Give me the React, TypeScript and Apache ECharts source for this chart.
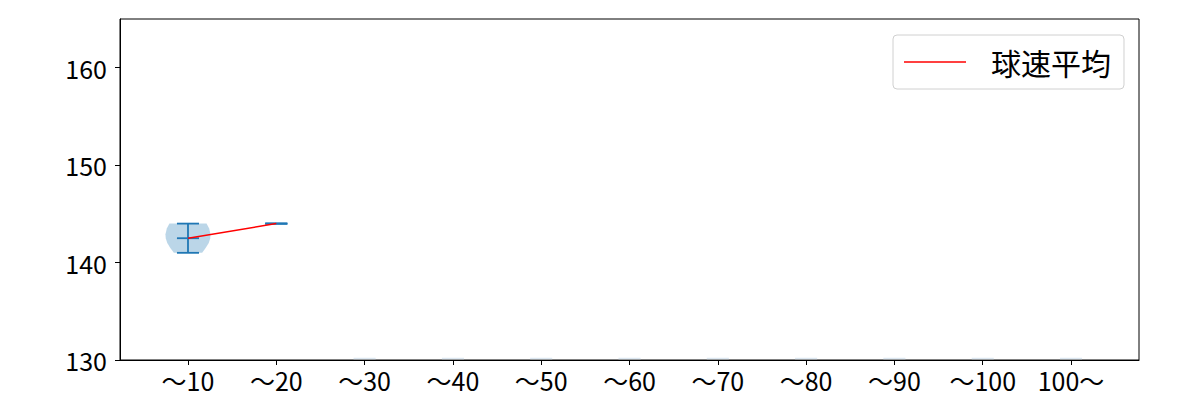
import React, { useEffect, useRef } from 'react';
import * as echarts from 'echarts';

// x categories (pitch count buckets)
const categories = ['〜10', '〜20', '〜30', '〜40', '〜50', '〜60', '〜70', '〜80', '〜90', '〜100', '100〜'];
const positions = categories.map((_, i) => i + 1);

// per-bucket stats (only first two buckets have pitches)
const minValues = [141, 144];
const maxValues = [144, 144];
const meanValues = [142.5, 144];

// KDE outline of the first violin
const profileValues = [141.0, 141.5, 142.0, 142.5, 142.9, 143.5, 144.0];
const profileHalfWidths = [0.16, 0.2, 0.235, 0.252, 0.255, 0.24, 0.21];

// empty buckets leave only a faint sliver at the axis floor
const emptyPositions = [3, 4, 5, 6, 7, 8, 9, 10, 11];

const yTicks = [130, 140, 150, 160];

const FONT = '"Noto Sans CJK JP", "Noto Sans", sans-serif';
const BLUE = '#1f77b4';
const CAP = 0.125;

export default function App() {
  const chartRef = useRef<HTMLDivElement>(null);

  useEffect(() => {
    if (!chartRef.current) return;
    const chart = echarts.init(chartRef.current, null, { renderer: 'svg' });

    const violinData = minValues.map((_, i) => [positions[i], i]);

    const option: echarts.EChartsOption = {
      animation: false,
      backgroundColor: '#fff',
      grid: {
        left: 120,
        right: 61,
        top: 19,
        bottom: 40,
        show: true,
        borderColor: '#000',
        borderWidth: 1,
      },
      legend: {
        left: 893,
        top: 35,
        data: ['球速平均'],
        icon: 'rect',
        itemWidth: 62,
        itemHeight: 1.5,
        padding: [11, 13, 11, 11],
        borderColor: '#d0d0d0',
        borderWidth: 1,
        borderRadius: 4,
        backgroundColor: '#fff',
        textStyle: {
          fontFamily: FONT,
          fontSize: 30,
          color: '#000',
          lineHeight: 32,
          padding: [0, 0, 0, 20],
        },
      },
      xAxis: {
        type: 'value',
        min: 0.23,
        max: 11.77,
        splitLine: { show: false },
        axisLine: { lineStyle: { color: '#000', width: 1 } },
        axisTick: {
          show: true,
          length: 5,
          customValues: positions,
          lineStyle: { color: '#000' },
        },
        axisLabel: {
          customValues: positions,
          formatter: (v: number) => categories[Math.round(v) - 1] ?? '',
          fontFamily: FONT,
          fontSize: 25,
          color: '#000',
          margin: 7,
        },
      },
      yAxis: {
        type: 'value',
        min: 130,
        max: 165,
        interval: 10,
        splitLine: { show: false },
        axisLine: { show: true, lineStyle: { color: '#000', width: 1 } },
        axisTick: {
          show: true,
          length: 5,
          customValues: yTicks,
          lineStyle: { color: '#000' },
        },
        axisLabel: {
          customValues: yTicks,
          fontFamily: FONT,
          fontSize: 25,
          color: '#000',
          margin: 13,
        },
      },
      series: [
        {
          type: 'custom',
          name: 'empty',
          silent: true,
          data: emptyPositions.map((p) => [p, 130]),
          renderItem: (params: any, api: any) => {
            const p = api.value(0);
            const a = api.coord([p - CAP, 130]);
            const b = api.coord([p + CAP, 130]);
            return {
              type: 'line',
              shape: { x1: a[0], y1: a[1] - 1.5, x2: b[0], y2: b[1] - 1.5 },
              style: { stroke: '#dde8f2', lineWidth: 1.5 },
            };
          },
        },
        {
          type: 'custom',
          name: 'violin',
          silent: true,
          data: violinData,
          renderItem: (params: any, api: any) => {
            const p = api.value(0);
            const i = api.value(1);
            const children: any[] = [];
            if (maxValues[i] > minValues[i]) {
              const left = profileValues.map((v, k) => api.coord([p - profileHalfWidths[k], v]));
              const right = profileValues
                .map((v, k) => api.coord([p + profileHalfWidths[k], v]))
                .reverse();
              children.push({
                type: 'polygon',
                shape: { points: left.concat(right) },
                style: { fill: 'rgba(31,119,180,0.3)', stroke: 'none' },
              });
            }
            const top = api.coord([p, maxValues[i]]);
            const bottom = api.coord([p, minValues[i]]);
            children.push({
              type: 'line',
              shape: { x1: top[0], y1: top[1], x2: bottom[0], y2: bottom[1] },
              style: { stroke: BLUE, lineWidth: 1.8 },
            });
            [minValues[i], maxValues[i], meanValues[i]].forEach((v) => {
              const a = api.coord([p - CAP, v]);
              const b = api.coord([p + CAP, v]);
              children.push({
                type: 'line',
                shape: { x1: a[0], y1: a[1], x2: b[0], y2: b[1] },
                style: { stroke: BLUE, lineWidth: 1.8 },
              });
            });
            return { type: 'group', children };
          },
        },
        {
          type: 'line',
          name: '球速平均',
          data: meanValues.map((v, i) => [positions[i], v]),
          showSymbol: false,
          symbol: 'none',
          lineStyle: { color: '#ff0000', width: 1.5 },
          itemStyle: { color: '#ff0000' },
          z: 5,
        },
      ],
    };

    chart.setOption(option);
    return () => chart.dispose();
  }, []);

  return (
    <div
      ref={chartRef}
      style={{ position: 'fixed', left: 0, top: 0, width: 1200, height: 400 }}
    />
  );
}
